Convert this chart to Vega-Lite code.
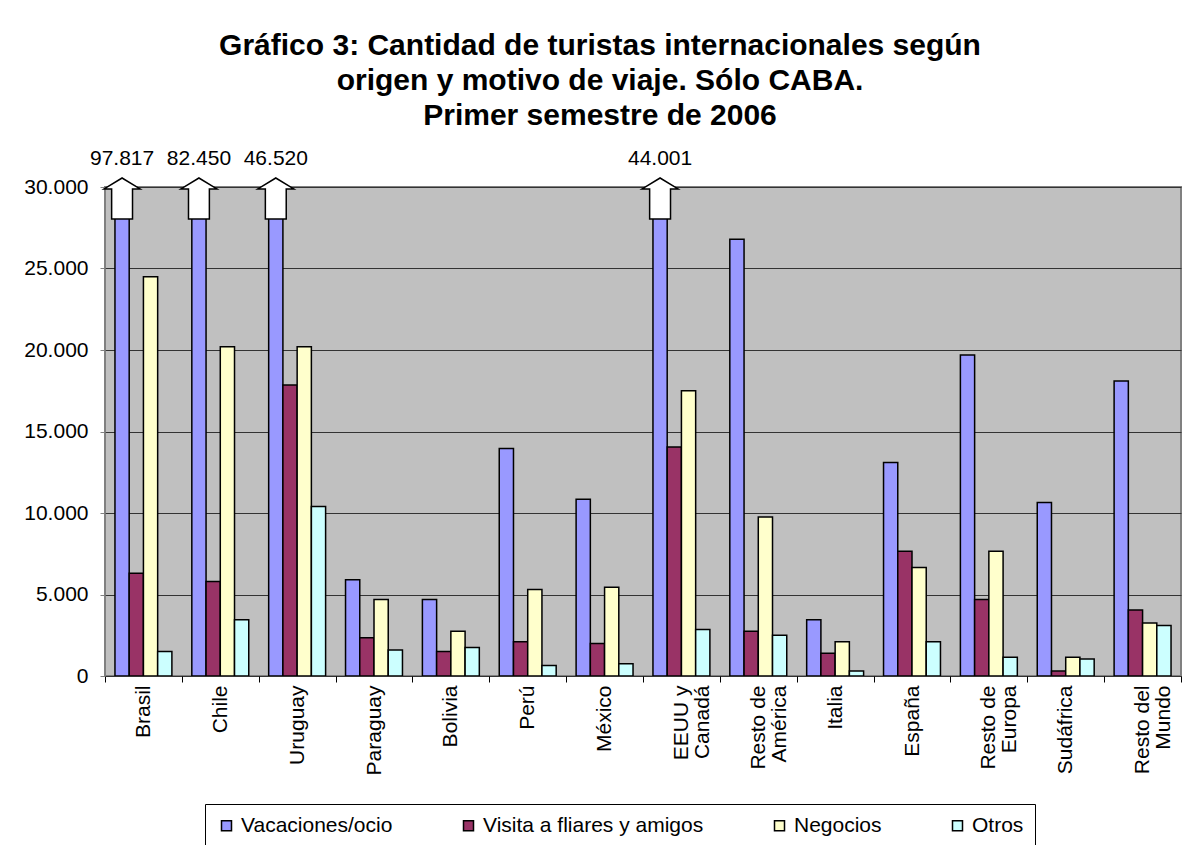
{
  "$schema": "https://vega.github.io/schema/vega-lite/v6.json",
  "width": 1076,
  "height": 489,
  "autosize": {"type": "none"},
  "padding": {"left": 105, "top": 187, "right": 9, "bottom": 169},
  "background": "white",
  "config": {
    "locale": {"number": {"decimal": ",", "thousands": ".", "grouping": [3], "currency": ["$", ""]}},
    "view": {"fill": "#C0C0C0", "stroke": "#808080", "strokeWidth": 2},
    "font": "Liberation Sans"
  },
  "title": {
    "text": ["Gráfico 3: Cantidad de turistas internacionales según", "origen y motivo de viaje. Sólo CABA.", "Primer semestre de 2006"],
    "fontSize": 30,
    "fontWeight": "bold",
    "font": "Liberation Sans",
    "color": "black",
    "anchor": "middle",
    "lineHeight": 35,
    "offset": 17,
    "dx": -43
  },
  "data": {
    "values": [
      {"pais": "Brasil", "motivo": "Vacaciones/ocio", "valor": 97817},
      {"pais": "Brasil", "motivo": "Visita a fliares y amigos", "valor": 6300},
      {"pais": "Brasil", "motivo": "Negocios", "valor": 24500},
      {"pais": "Brasil", "motivo": "Otros", "valor": 1500},
      {"pais": "Chile", "motivo": "Vacaciones/ocio", "valor": 82450},
      {"pais": "Chile", "motivo": "Visita a fliares y amigos", "valor": 5800},
      {"pais": "Chile", "motivo": "Negocios", "valor": 20200},
      {"pais": "Chile", "motivo": "Otros", "valor": 3450},
      {"pais": "Uruguay", "motivo": "Vacaciones/ocio", "valor": 46520},
      {"pais": "Uruguay", "motivo": "Visita a fliares y amigos", "valor": 17850},
      {"pais": "Uruguay", "motivo": "Negocios", "valor": 20200},
      {"pais": "Uruguay", "motivo": "Otros", "valor": 10400},
      {"pais": "Paraguay", "motivo": "Vacaciones/ocio", "valor": 5900},
      {"pais": "Paraguay", "motivo": "Visita a fliares y amigos", "valor": 2350},
      {"pais": "Paraguay", "motivo": "Negocios", "valor": 4700},
      {"pais": "Paraguay", "motivo": "Otros", "valor": 1600},
      {"pais": "Bolivia", "motivo": "Vacaciones/ocio", "valor": 4700},
      {"pais": "Bolivia", "motivo": "Visita a fliares y amigos", "valor": 1500},
      {"pais": "Bolivia", "motivo": "Negocios", "valor": 2750},
      {"pais": "Bolivia", "motivo": "Otros", "valor": 1750},
      {"pais": "Perú", "motivo": "Vacaciones/ocio", "valor": 13950},
      {"pais": "Perú", "motivo": "Visita a fliares y amigos", "valor": 2100},
      {"pais": "Perú", "motivo": "Negocios", "valor": 5300},
      {"pais": "Perú", "motivo": "Otros", "valor": 650},
      {"pais": "México", "motivo": "Vacaciones/ocio", "valor": 10850},
      {"pais": "México", "motivo": "Visita a fliares y amigos", "valor": 2000},
      {"pais": "México", "motivo": "Negocios", "valor": 5450},
      {"pais": "México", "motivo": "Otros", "valor": 750},
      {"pais": "EEUU y Canadá", "motivo": "Vacaciones/ocio", "valor": 44001},
      {"pais": "EEUU y Canadá", "motivo": "Visita a fliares y amigos", "valor": 14050},
      {"pais": "EEUU y Canadá", "motivo": "Negocios", "valor": 17500},
      {"pais": "EEUU y Canadá", "motivo": "Otros", "valor": 2850},
      {"pais": "Resto de América", "motivo": "Vacaciones/ocio", "valor": 26800},
      {"pais": "Resto de América", "motivo": "Visita a fliares y amigos", "valor": 2750},
      {"pais": "Resto de América", "motivo": "Negocios", "valor": 9750},
      {"pais": "Resto de América", "motivo": "Otros", "valor": 2500},
      {"pais": "Italia", "motivo": "Vacaciones/ocio", "valor": 3450},
      {"pais": "Italia", "motivo": "Visita a fliares y amigos", "valor": 1400},
      {"pais": "Italia", "motivo": "Negocios", "valor": 2100},
      {"pais": "Italia", "motivo": "Otros", "valor": 300},
      {"pais": "España", "motivo": "Vacaciones/ocio", "valor": 13100},
      {"pais": "España", "motivo": "Visita a fliares y amigos", "valor": 7650},
      {"pais": "España", "motivo": "Negocios", "valor": 6650},
      {"pais": "España", "motivo": "Otros", "valor": 2100},
      {"pais": "Resto de Europa", "motivo": "Vacaciones/ocio", "valor": 19700},
      {"pais": "Resto de Europa", "motivo": "Visita a fliares y amigos", "valor": 4700},
      {"pais": "Resto de Europa", "motivo": "Negocios", "valor": 7650},
      {"pais": "Resto de Europa", "motivo": "Otros", "valor": 1150},
      {"pais": "Sudáfrica", "motivo": "Vacaciones/ocio", "valor": 10650},
      {"pais": "Sudáfrica", "motivo": "Visita a fliares y amigos", "valor": 300},
      {"pais": "Sudáfrica", "motivo": "Negocios", "valor": 1150},
      {"pais": "Sudáfrica", "motivo": "Otros", "valor": 1050},
      {"pais": "Resto del Mundo", "motivo": "Vacaciones/ocio", "valor": 18100},
      {"pais": "Resto del Mundo", "motivo": "Visita a fliares y amigos", "valor": 4050},
      {"pais": "Resto del Mundo", "motivo": "Negocios", "valor": 3250},
      {"pais": "Resto del Mundo", "motivo": "Otros", "valor": 3100}
    ]
  },
  "layer": [
    {
      "mark": {"type": "bar", "stroke": "black", "strokeWidth": 1.5, "clip": true},
      "encoding": {
        "x": {
          "field": "pais", "type": "nominal", "sort": null,
          "scale": {"paddingInner": 0, "paddingOuter": 0},
          "axis": {
            "title": null, "labelAngle": -90, "labelAlign": "right", "labelBaseline": "middle",
            "labelFontSize": 21, "labelColor": "black", "tickBand": "extent", "tickSize": 6,
            "tickColor": "#000000", "domain": false, "labelPadding": 3, "labelLineHeight": 21,
            "labelExpr": "datum.value == 'EEUU y Canadá' ? ['EEUU y', 'Canadá'] : datum.value == 'Resto de América' ? ['Resto de', 'América'] : datum.value == 'Resto de Europa' ? ['Resto de', 'Europa'] : datum.value == 'Resto del Mundo' ? ['Resto del', 'Mundo'] : datum.value"
          }
        },
        "xOffset": {
          "field": "motivo", "type": "nominal",
          "sort": ["Vacaciones/ocio", "Visita a fliares y amigos", "Negocios", "Otros"],
          "scale": {"paddingInner": 0, "paddingOuter": 0.7}
        },
        "y": {
          "field": "valor", "type": "quantitative",
          "scale": {"domain": [0, 30000], "nice": false},
          "axis": {
            "title": null, "values": [0, 5000, 10000, 15000, 20000, 25000, 30000], "format": ",d",
            "labelFontSize": 21, "labelColor": "black", "tickSize": 5, "tickColor": "#808080",
            "labelPadding": 12, "gridColor": "#333333", "gridWidth": 1, "domain": false, "grid": true
          }
        },
        "color": {
          "field": "motivo", "type": "nominal",
          "sort": ["Vacaciones/ocio", "Visita a fliares y amigos", "Negocios", "Otros"],
          "scale": {
            "domain": ["Vacaciones/ocio", "Visita a fliares y amigos", "Negocios", "Otros"],
            "range": ["#9999FF", "#993366", "#FFFFCC", "#CCFFFF"]
          },
          "legend": {
            "orient": "none", "legendX": 100, "legendY": 617, "direction": "horizontal", "columns": 4,
            "title": null, "labelFontSize": 21, "labelColor": "black", "symbolType": "square", "symbolSize": 100,
            "symbolStrokeColor": "black", "symbolStrokeWidth": 1.5, "symbolOpacity": 1,
            "strokeColor": "black", "fillColor": "white", "padding": 11, "columnPadding": 65, "labelLimit": 400, "labelOffset": 4
          }
        }
      }
    },
    {
      "transform": [{"filter": "datum.valor > 30000"}],
      "mark": {
        "type": "point",
        "shape": "M0,-0.5 L1,0.11 L0.58,0.11 L0.58,1.78 L-0.58,1.78 L-0.58,0.11 L-1,0.11 Z",
        "filled": true, "fill": "white", "stroke": "black", "strokeWidth": 1.5, "size": 1296, "opacity": 1
      },
      "encoding": {
        "x": {"field": "pais", "type": "nominal", "sort": null},
        "xOffset": {"field": "motivo", "type": "nominal", "sort": ["Vacaciones/ocio", "Visita a fliares y amigos", "Negocios", "Otros"]},
        "y": {"datum": 30000, "type": "quantitative"}
      }
    },
    {
      "transform": [{"filter": "datum.valor > 30000"}],
      "mark": {"type": "text", "dy": -28, "fontSize": 21, "baseline": "middle", "color": "black"},
      "encoding": {
        "x": {"field": "pais", "type": "nominal", "sort": null},
        "xOffset": {"field": "motivo", "type": "nominal", "sort": ["Vacaciones/ocio", "Visita a fliares y amigos", "Negocios", "Otros"]},
        "y": {"datum": 30000, "type": "quantitative"},
        "text": {"field": "valor", "type": "quantitative", "format": ",d"}
      }
    }
  ]
}
